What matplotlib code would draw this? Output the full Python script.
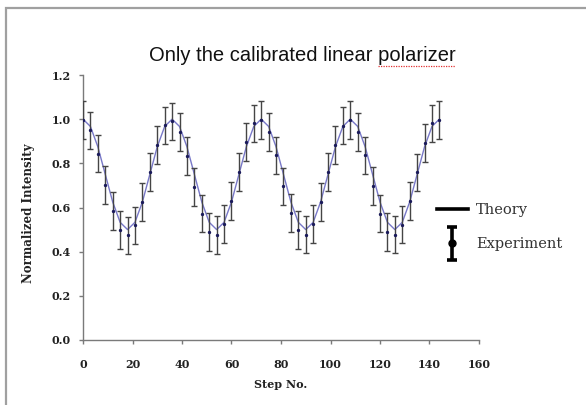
import matplotlib
matplotlib.use("Agg")
import matplotlib.pyplot as plt
from matplotlib.patches import Rectangle
from matplotlib.lines import Line2D
from matplotlib.container import ErrorbarContainer
from matplotlib.legend_handler import HandlerErrorbar

# step numbers of the measurements
steps = [0, 3, 6, 9, 12, 15, 18, 21, 24, 27, 30, 33,
         36, 39, 42, 45, 48, 51, 54, 57, 60, 63, 66, 69,
         72, 75, 78, 81, 84, 87, 90, 93, 96, 99, 102, 105,
         108, 111, 114, 117, 120, 123, 126, 129, 132, 135, 138, 141, 144]

theory = [1.000, 0.967, 0.875, 0.750, 0.625, 0.533, 0.500, 0.533, 0.625, 0.750, 0.875, 0.967,
          1.000, 0.967, 0.875, 0.750, 0.625, 0.533, 0.500, 0.533, 0.625, 0.750, 0.875, 0.967,
          1.000, 0.967, 0.875, 0.750, 0.625, 0.533, 0.500, 0.533, 0.625, 0.750, 0.875, 0.967,
          1.000, 0.967, 0.875, 0.750, 0.625, 0.533, 0.500, 0.533, 0.625, 0.750, 0.875, 0.967, 1.000]

experiment = [0.995, 0.949, 0.844, 0.703, 0.583, 0.497, 0.474, 0.519, 0.625, 0.761, 0.882, 0.972,
              0.990, 0.942, 0.834, 0.693, 0.572, 0.489, 0.476, 0.526, 0.629, 0.761, 0.897, 0.981,
              0.996, 0.943, 0.836, 0.696, 0.575, 0.497, 0.477, 0.526, 0.624, 0.761, 0.883, 0.971,
              0.995, 0.942, 0.836, 0.697, 0.572, 0.488, 0.477, 0.523, 0.629, 0.759, 0.891, 0.981, 0.996]

exp_err = 0.085

xticks = [0, 20, 40, 60, 80, 100, 120, 140, 160]
yticks = [0.0, 0.2, 0.4, 0.6, 0.8, 1.0, 1.2]

SERIF = "DejaVu Serif"

fig = plt.figure(figsize=(5.86, 4.05), dpi=100)
ax = fig.add_axes([83 / 586, 1 - 340 / 405, 396 / 586, 265 / 405])

# chart area border (runs off the right and bottom of the picture)
fig.patches.append(Rectangle((6 / 586, -0.2), 1.5, 1.2 - 8 / 405,
                             transform=fig.transFigure, fill=False,
                             edgecolor="#a0a0a0", lw=1.6))

ax.plot(steps, theory, color="#7878c8", lw=1.0, zorder=2)
ax.errorbar(steps, experiment, yerr=exp_err, fmt="o", ms=1.4,
            color="#1a1a5a", ecolor="#454545", elinewidth=1.0,
            capsize=2.2, capthick=1.0, zorder=3)

ax.set_xlim(0, 160)
ax.set_ylim(0, 1.2)
ax.set_xticks(xticks)
ax.set_yticks(yticks)
ax.set_yticklabels(["%.1f" % v for v in yticks])

for s in ["top", "right"]:
    ax.spines[s].set_visible(False)
for s in ["left", "bottom"]:
    ax.spines[s].set_color("#7a7a7a")
    ax.spines[s].set_linewidth(1.0)
ax.tick_params(axis="both", direction="out", length=3, width=1.0, color="#7a7a7a")
ax.tick_params(axis="x", pad=11)
ax.tick_params(axis="y", pad=6)
for lab in ax.get_xticklabels() + ax.get_yticklabels():
    lab.set_fontfamily(SERIF)
    lab.set_fontweight("bold")
    lab.set_fontsize(8)
    lab.set_color("#222222")

ax.set_xlabel("Step No.", fontfamily=SERIF, fontweight="bold", fontsize=8, color="#222222")
ax.xaxis.set_label_coords(0.5, -(384 - 340) / 265)
ax.xaxis.label.set_va("center")
ax.set_ylabel("Normalized Intensity", fontfamily=SERIF, fontweight="bold", fontsize=8.5,
              color="#222222")
ax.yaxis.set_label_coords(-(83 - 35) / 396, 0.48)

title = fig.text(302 / 586, 1 - 61 / 405, "Only the calibrated linear polarizer",
                 ha="center", va="baseline", fontfamily="Liberation Sans", fontsize=14.5,
                 color="#111111")

# legend placed outside the plot area on the right
theory_proxy = Line2D([], [], color="black", lw=2.6)
exp_proxy = ax.errorbar([float("nan")], [float("nan")], yerr=[0.1], fmt="o", ms=5,
                        color="black", ecolor="black", elinewidth=2.6,
                        capsize=3.5, capthick=2.6)
fig.legend([theory_proxy, exp_proxy], ["Theory", "Experiment"],
           loc="upper left", bbox_to_anchor=(437 / 586, 1 - 203 / 405),
           frameon=False, borderpad=0, borderaxespad=0, handlelength=2.1,
           handletextpad=0.6, labelspacing=1.4,
           prop={"family": SERIF, "size": 10.5},
           labelcolor="#333333",
           handler_map={ErrorbarContainer: HandlerErrorbar(yerr_size=1.15)})

# red spell-check style underline under the last word of the title
fig.canvas.draw()
r = fig.canvas.get_renderer()
bb = title.get_window_extent(r)
tmp = fig.text(0, 0, "Only the calibrated linear ", fontfamily="Liberation Sans", fontsize=14.5)
pre_w = tmp.get_window_extent(r).width
tmp.remove()
y_ul = (bb.y0 - 1) / fig.bbox.height
fig.lines.append(Line2D([(bb.x0 + pre_w) / fig.bbox.width, bb.x1 / fig.bbox.width],
                        [y_ul, y_ul], transform=fig.transFigure,
                        color="#e03030", lw=0.9, ls=(0, (1, 1))))

fig.savefig("out.png", dpi=100)
